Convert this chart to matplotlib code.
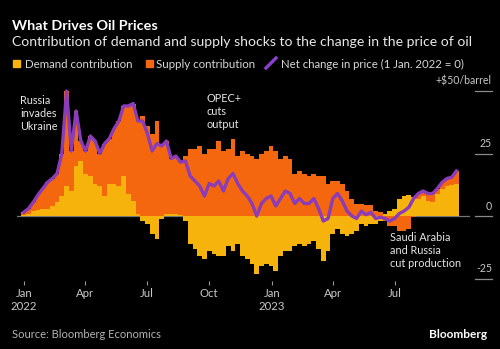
import pandas as pd
import matplotlib
matplotlib.use("Agg")
import matplotlib.pyplot as plt
import matplotlib.transforms as mtransforms
from matplotlib.patches import Rectangle
from matplotlib.lines import Line2D

# weekly readings, 1 Jan 2022 .. end Sep 2023 ($/barrel vs 1 Jan 2022)
weeks = pd.date_range("2022-01-01", periods=92, freq="7D")
demand = [0.5, 1, 2, 2.5, 3, 3, 4, 5.5, 8, 12,
          10, 20, 22, 17, 16, 13, 12, 8, 13, 13,
          12, 16, 9, 6, 1, -2, -3, -7, -9, -1,
          1, 1, 1, 0.5, -2, -11, -13, -16, -17, -14,
          -15, -16, -16, -12, -14, -11, -16, -17, -19, -23,
          -20, -19, -20, -22, -16, -14, -14, -12, -11, -12,
          -11, -10, -13, -18, -14, -7, -5, -7, -8, -7,
          -6, -3, -4, -3, -3, -2, 1, 2, 3, 7,
          8, 8.5, 7.5, 7, 8, 6, 5.5, 9, 11, 12,
          12.5, 13]
supply = [1, 2, 3.5, 6, 8, 10.5, 11, 11.5, 17, 38,
          16, 22, 8, 9, 16, 17, 13, 21, 18, 22,
          26, 28, 35, 39, 37, 40, 36, 33, 38, 29,
          29, 22, 23, 21, 24, 27, 27, 28, 25, 27,
          27, 30, 26, 27, 31, 24, 26, 25, 24, 23,
          25, 26, 28, 26, 23, 24, 23, 17, 18, 17,
          16, 17, 16, 16, 13, 14, 14, 13, 10, 7,
          5, 5, 4.5, 4.5, 2, 1.5, -2, -4, -4, -6,
          -6, -5, -0.5, 2, 2, 3, 3.5, 2, 2.5, 3,
          3, 5]
net = [d + s for d, s in zip(demand, supply)]

tick_dates = ["2022-01-01", "2022-04-01", "2022-07-01", "2022-10-01",
              "2023-01-01", "2023-04-01", "2023-07-01"]
tick_labels = ["Jan\n2022", "Apr", "Jul", "Oct", "Jan\n2023", "Apr", "Jul"]
y_levels = [50, 25, 0, -25]
y_labels = ["+$50/barrel", "25", "0", "-25"]

YELLOW = "#f5b30c"
ORANGE = "#f4670e"
PURPLE = "#8b3cb8"
FONT = "Lato"

plt.rcParams["font.family"] = [FONT, "DejaVu Sans"]

W, H = 500, 349
fig = plt.figure(figsize=(W / 100, H / 100), dpi=100, facecolor="black")


def fx(x):
    return x / W


def fy(y):
    return 1 - y / H


ax = fig.add_axes([fx(17), fy(281), fx(470) - fx(17), fy(81) - fy(281)])
ax.set_facecolor("black")

# diverging stack: positives pile upward, negatives downward
orange_bottom = [d if (d > 0 and s > 0) or (d < 0 and s < 0) else 0
                 for d, s in zip(demand, supply)]
width = pd.Timedelta(days=7)
ax.axhline(0, color="#777777", lw=0.9, zorder=1)
ax.bar(weeks, demand, width=width, color=YELLOW, lw=0, zorder=2)
ax.bar(weeks, supply, bottom=orange_bottom, width=width, color=ORANGE, lw=0, zorder=2)
ax.plot(weeks, net, color=PURPLE, lw=2.4, solid_joinstyle="round", zorder=3)

ax.set_xlim(pd.Timestamp("2021-12-22"), pd.Timestamp("2023-10-20"))
ax.set_ylim(-26, 54)
for sp in ax.spines.values():
    sp.set_visible(False)
ax.set_yticks([])
ax.set_xticks(pd.to_datetime(tick_dates))
ax.set_xticklabels(tick_labels, color="#c8c8c8", fontsize=8.2, linespacing=1.25)
ax.tick_params(axis="x", colors="#999999", length=3, width=0.8, pad=2,
               labelcolor="#c8c8c8")

# right-hand value labels with short rules under them
blend = mtransforms.blended_transform_factory(fig.transFigure, ax.transData)
for v, lab in zip(y_levels, y_labels):
    ax.plot([fx(475), fx(492)], [v, v], transform=blend, color="#8a8a8a",
            lw=0.9, clip_on=False)
    ax.annotate(lab, xy=(fx(492), v), xycoords=blend, xytext=(0, 7),
                textcoords="offset points", ha="right", va="center",
                color="#c8c8c8", fontsize=7.6)

# event notes
note_kw = dict(color="#e6e6e6", fontsize=7.8, ha="left", va="top", linespacing=1.22)
ax.text(pd.Timestamp("2021-12-27"), 48.5, "Russia\ninvades\nUkraine", **note_kw)
ax.text(pd.Timestamp("2022-09-27"), 49, "OPEC+\ncuts\noutput", **note_kw)
ax.text(pd.Timestamp("2023-06-24"), -6.4, "Saudi Arabia\nand Russia\ncut production",
        **note_kw)

# titles
fig.text(fx(12), fy(29.5), "What Drives Oil Prices", color="white", fontsize=10.4,
         fontweight="bold", va="baseline")
fig.text(fx(12), fy(45.5), "Contribution of demand and supply shocks to the change in the price of oil",
         color="#e8e8e8", fontsize=10.05, va="baseline")

# legend
fig.add_artist(Rectangle((fx(13), fy(67)), fx(7), 7 / H, color=YELLOW,
                         transform=fig.transFigure))
fig.text(fx(25), fy(67.5), "Demand contribution", color="#d8d8d8", fontsize=8.3,
         va="baseline")
fig.add_artist(Rectangle((fx(146), fy(67)), fx(7), 7 / H, color=ORANGE,
                         transform=fig.transFigure))
fig.text(fx(156), fy(67.5), "Supply contribution", color="#d8d8d8", fontsize=8.3,
         va="baseline")
fig.add_artist(Line2D([fx(266), fx(276)], [fy(68), fy(58)], color="#8a3fcf", lw=2.4,
                      transform=fig.transFigure))
fig.text(fx(281), fy(67.5), "Net change in price (1 Jan. 2022 = 0)", color="#d8d8d8",
         fontsize=8.2, va="baseline")

# footer
fig.text(fx(12), fy(338), "Source: Bloomberg Economics", color="#b4b4b4",
         fontsize=8, va="baseline")
fig.text(fx(487), fy(338), "Bloomberg", color="white", fontsize=8.6,
         fontweight="bold", ha="right", va="baseline")

fig.savefig("out.png", dpi=100, facecolor="black")
